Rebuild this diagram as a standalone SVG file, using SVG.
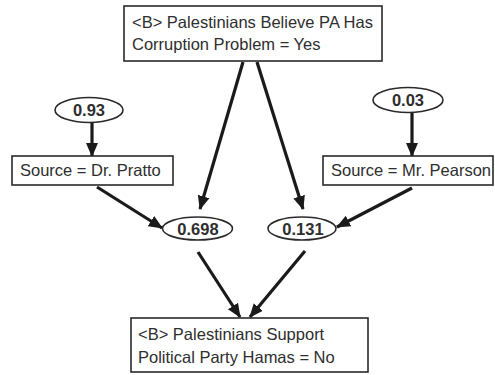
<svg xmlns="http://www.w3.org/2000/svg" width="495" height="375" viewBox="0 0 495 375">
  <style>
    .box { fill: #ffffff; stroke: #2a2a2a; stroke-width: 1.6; }
    .oval { fill: #ffffff; stroke: #2a2a2a; stroke-width: 1.6; }
    .lbl { font-family: "Liberation Sans", Arial, sans-serif; font-size: 16.5px; fill: #2e2e2e; }
    .num { font-family: "Liberation Sans", Arial, sans-serif; font-size: 16.5px; font-weight: bold; fill: #2e2e2e; text-anchor: middle; }
    .edge { fill: none; stroke: #1a1a1a; stroke-width: 3.2; marker-end: url(#head); }
  </style>
  <defs>
    <marker id="head" markerUnits="userSpaceOnUse" markerWidth="14" markerHeight="14" viewBox="0 0 14 14" refX="13" refY="7" orient="auto">
      <path d="M0,1 L14,7 L0,13 Z" fill="#1a1a1a"/>
    </marker>
  </defs>
  <rect width="495" height="375" fill="#ffffff"/>

  <!-- connectors -->
  <g id="edges">
    <line class="edge" x1="92" y1="123" x2="92" y2="156"/>
    <line class="edge" x1="412" y1="113" x2="412" y2="156"/>
    <line class="edge" x1="243" y1="62" x2="200" y2="209"/>
    <line class="edge" x1="257" y1="62" x2="303" y2="209"/>
    <line class="edge" x1="97" y1="187" x2="162" y2="228"/>
    <line class="edge" x1="412" y1="188" x2="337" y2="227"/>
    <line class="edge" x1="198" y1="252" x2="240" y2="317"/>
    <line class="edge" x1="305" y1="251" x2="250" y2="317"/>
  </g>

  <g id="node-corruption">
    <rect class="box" x="124" y="6" width="258" height="55"/>
    <text class="lbl" x="132" y="28">&lt;B&gt; Palestinians Believe PA Has</text>
    <text class="lbl" x="132" y="50">Corruption Problem = Yes</text>
  </g>

  <g id="node-p093">
    <ellipse class="oval" cx="89" cy="110" rx="34" ry="12.5"/>
    <text class="num" x="89" y="116">0.93</text>
  </g>

  <g id="node-p003">
    <ellipse class="oval" cx="408" cy="100" rx="35" ry="12.5"/>
    <text class="num" x="408" y="106">0.03</text>
  </g>

  <g id="node-pratto">
    <rect class="box" x="12" y="156" width="161" height="29"/>
    <text class="lbl" x="20" y="176">Source = Dr. Pratto</text>
  </g>

  <g id="node-pearson">
    <rect class="box" x="323" y="156" width="170" height="29"/>
    <text class="lbl" x="331" y="176">Source = Mr. Pearson</text>
  </g>

  <g id="node-p0698">
    <ellipse class="oval" cx="197.5" cy="228.5" rx="35" ry="11.5"/>
    <text class="num" x="198" y="234.5">0.698</text>
  </g>

  <g id="node-p0131">
    <ellipse class="oval" cx="302" cy="228.5" rx="34" ry="11.5"/>
    <text class="num" x="303" y="234.5">0.131</text>
  </g>

  <g id="node-hamas">
    <rect class="box" x="131" y="318" width="237" height="54"/>
    <text class="lbl" x="138" y="340">&lt;B&gt; Palestinians Support</text>
    <text class="lbl" x="138" y="363">Political Party Hamas = No</text>
  </g>
</svg>
